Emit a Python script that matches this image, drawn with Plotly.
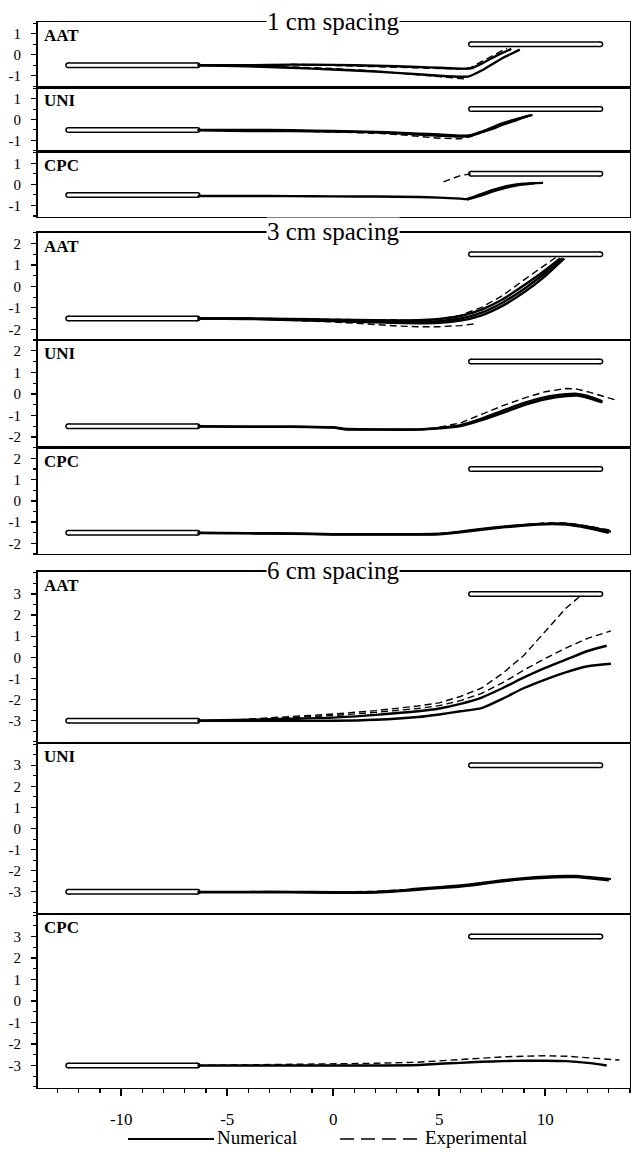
import plotly.graph_objects as go

# ---------------- data ----------------
group_titles = ["1 cm spacing", "3 cm spacing", "6 cm spacing"]
config_names = ["AAT", "UNI", "CPC"]
x_tick_vals = [-10, -5, 0, 5, 10]
x_tick_text = ["-10", "-5", "0", "5", "10"]
y_tick_vals = [[-1, 0, 1], [-2, -1, 0, 1, 2], [-3, -2, -1, 0, 1, 2, 3]]
y_tick_text = [["-1", "0", "1"], ["-2", "-1", "0", "1", "2"],
               ["-3", "-2", "-1", "0", "1", "2", "3"]]
y_ranges = [[-1.55, 1.55], [-2.5, 2.5], [-4.05, 4.05]]
x_range = [-13.95, 14.0]

# plates (rounded bars): left plate below, right plate above
plate_left_x = [-12.5, -6.4]
plate_right_x = [6.5, 12.6]
plate_level = [0.5, 1.5, 3.0]

# ---- 1 cm spacing ----
s1_aat_num1_x = [-6.4, -4, -2, 0, 2, 4, 5, 6, 6.5, 7, 7.5, 8, 8.4]
s1_aat_num1_y = [-0.5, -0.5, -0.47, -0.48, -0.52, -0.58, -0.62, -0.66, -0.65, -0.42, -0.15, 0.1, 0.28]
s1_aat_num2_x = [-6.4, -4, -2, 0, 2, 4, 5, 6, 6.4, 7, 7.5, 8, 8.5, 8.8]
s1_aat_num2_y = [-0.5, -0.55, -0.62, -0.7, -0.8, -0.93, -1.0, -1.05, -1.03, -0.75, -0.45, -0.15, 0.1, 0.25]
s1_aat_exp1_x = [-4, -2, 0, 2, 4, 5, 6.2]
s1_aat_exp1_y = [-0.55, -0.58, -0.65, -0.78, -0.95, -1.05, -1.15]
s1_aat_exp2_x = [-2, 0, 2, 4, 5, 6, 6.5, 7, 7.5, 8, 8.2]
s1_aat_exp2_y = [-0.45, -0.5, -0.55, -0.6, -0.65, -0.68, -0.6, -0.32, -0.05, 0.22, 0.3]

s1_uni_num1_x = [-6.4, -4, -2, 0, 2, 3, 4, 5, 6, 6.5, 7, 7.5, 8, 8.5, 9, 9.3]
s1_uni_num1_y = [-0.5, -0.5, -0.52, -0.55, -0.6, -0.63, -0.68, -0.72, -0.78, -0.75, -0.58, -0.38, -0.18, -0.02, 0.12, 0.2]
s1_uni_num2_x = [-6.4, -4, -2, 0, 2, 3, 4, 5, 6, 6.5, 7, 7.5, 8, 8.5, 9, 9.4]
s1_uni_num2_y = [-0.52, -0.55, -0.55, -0.58, -0.62, -0.66, -0.72, -0.78, -0.82, -0.78, -0.62, -0.45, -0.25, -0.08, 0.1, 0.22]
s1_uni_exp1_x = [-2, 0, 2, 3, 4, 5, 6, 6.5, 7, 7.5, 8, 8.5, 9, 9.2]
s1_uni_exp1_y = [-0.55, -0.6, -0.66, -0.72, -0.82, -0.9, -0.93, -0.82, -0.6, -0.4, -0.2, -0.03, 0.12, 0.18]

s1_cpc_num1_x = [-6.4, -4, -2, 0, 2, 4, 5, 6, 6.3, 7, 7.5, 8, 8.5, 9, 9.9]
s1_cpc_num1_y = [-0.55, -0.55, -0.56, -0.57, -0.58, -0.6, -0.63, -0.68, -0.7, -0.45, -0.27, -0.13, -0.03, 0.03, 0.07]
s1_cpc_num2_x = [6.3, 7, 7.5, 8, 8.5, 9, 9.5]
s1_cpc_num2_y = [-0.72, -0.52, -0.35, -0.2, -0.08, 0.0, 0.05]
s1_cpc_exp1_x = [5.2, 5.6, 6.0, 6.5]
s1_cpc_exp1_y = [0.12, 0.28, 0.42, 0.5]

# ---- 3 cm spacing ----
s3_aat_num1_x = [-6.4, -4, -2, 0, 2, 4, 5, 6, 7, 8, 9, 10, 10.7]
s3_aat_num1_y = [-1.5, -1.5, -1.52, -1.55, -1.58, -1.58, -1.52, -1.38, -1.08, -0.6, 0.05, 0.75, 1.3]
s3_aat_num2_x = [-6.4, -4, -2, 0, 2, 4, 5, 6, 7, 8, 9, 10, 10.9]
s3_aat_num2_y = [-1.5, -1.52, -1.57, -1.62, -1.68, -1.72, -1.7, -1.6, -1.35, -0.9, -0.28, 0.48, 1.3]
s3_aat_num3_x = [-6.4, -4, -2, 0, 2, 4, 5, 6, 7, 8, 9, 10, 10.8]
s3_aat_num3_y = [-1.5, -1.5, -1.55, -1.6, -1.64, -1.66, -1.62, -1.5, -1.22, -0.75, -0.12, 0.62, 1.3]
s3_aat_exp1_x = [-2, 0, 2, 3, 4, 5, 6, 6.8]
s3_aat_exp1_y = [-1.58, -1.66, -1.78, -1.85, -1.88, -1.88, -1.83, -1.73]
s3_aat_exp2_x = [-2, 0, 2, 4, 5, 6, 7, 8, 9, 10, 10.5]
s3_aat_exp2_y = [-1.52, -1.55, -1.57, -1.58, -1.52, -1.35, -0.98, -0.42, 0.3, 1.02, 1.35]

s3_uni_num1_x = [-6.4, -4, -2, 0, 0.5, 2, 4, 5, 6, 7, 8, 9, 10, 11, 11.5, 12, 12.7]
s3_uni_num1_y = [-1.5, -1.52, -1.52, -1.55, -1.62, -1.65, -1.65, -1.58, -1.45, -1.15, -0.78, -0.42, -0.15, -0.02, 0.0, -0.1, -0.35]
s3_uni_num2_x = [-6.4, -4, -2, 0, 0.5, 2, 4, 5, 6, 7, 8, 9, 10, 11, 11.5, 12, 12.7]
s3_uni_num2_y = [-1.52, -1.53, -1.53, -1.57, -1.64, -1.66, -1.66, -1.6, -1.5, -1.22, -0.88, -0.52, -0.25, -0.1, -0.08, -0.18, -0.4]
s3_uni_exp1_x = [5, 6, 7, 8, 9, 10, 11, 11.5, 12, 12.5, 13.3]
s3_uni_exp1_y = [-1.55, -1.35, -0.95, -0.55, -0.2, 0.1, 0.25, 0.22, 0.1, -0.05, -0.28]

s3_cpc_num1_x = [-6.4, -4, -2, 0, 2, 4, 5, 6, 7, 8, 9, 10, 11, 12, 13.1]
s3_cpc_num1_y = [-1.5, -1.52, -1.53, -1.57, -1.57, -1.57, -1.55, -1.45, -1.32, -1.22, -1.13, -1.07, -1.08, -1.22, -1.45]
s3_cpc_num2_x = [-6.4, -4, -2, 0, 2, 4, 5, 6, 7, 8, 9, 10, 11, 12, 13.0]
s3_cpc_num2_y = [-1.52, -1.53, -1.55, -1.58, -1.58, -1.58, -1.57, -1.48, -1.36, -1.25, -1.16, -1.1, -1.12, -1.28, -1.5]
s3_cpc_exp1_x = [6, 8, 10, 11, 12, 13.2]
s3_cpc_exp1_y = [-1.45, -1.2, -1.04, -1.04, -1.18, -1.4]

# ---- 6 cm spacing ----
s6_aat_num1_x = [-6.4, -4, -2, 0, 2, 4, 5, 6, 7, 8, 9, 10, 11, 12, 13.1]
s6_aat_num1_y = [-3.0, -3.0, -3.0, -3.0, -2.95, -2.82, -2.7, -2.55, -2.4, -1.95, -1.45, -1.05, -0.7, -0.42, -0.3]
s6_aat_num2_x = [-6.4, -4, -2, 0, 2, 4, 5, 6, 7, 8, 9, 10, 11, 12, 12.9]
s6_aat_num2_y = [-3.0, -2.95, -2.9, -2.85, -2.72, -2.55, -2.42, -2.2, -1.9, -1.45, -0.95, -0.5, -0.1, 0.3, 0.55]
s6_aat_exp1_x = [-5, -4, -2, 0, 2, 4, 5, 6, 7, 8, 9, 10, 11, 12, 13.1]
s6_aat_exp1_y = [-3.0, -2.95, -2.85, -2.75, -2.6, -2.42, -2.28, -2.05, -1.7, -1.2, -0.6, -0.05, 0.45, 0.9, 1.25]
s6_aat_exp2_x = [-5, -4, -2, 0, 2, 4, 5, 6, 7, 8, 9, 10, 10.5, 11, 11.6]
s6_aat_exp2_y = [-3.0, -2.92, -2.8, -2.68, -2.52, -2.3, -2.15, -1.85, -1.45, -0.75, 0.1, 1.2, 1.8, 2.35, 2.85]

s6_uni_num1_x = [-6.4, -4, -2, 0, 2, 3, 4, 5, 6, 7, 8, 9, 10, 11, 11.5, 12, 13.1]
s6_uni_num1_y = [-3.0, -3.0, -3.0, -3.02, -3.0, -2.95, -2.85, -2.78, -2.7, -2.58, -2.45, -2.35, -2.28, -2.25, -2.25, -2.3, -2.4]
s6_uni_num2_x = [-6.4, -4, -2, 0, 2, 3, 4, 5, 6, 7, 8, 9, 10, 11, 11.5, 12, 13.0]
s6_uni_num2_y = [-3.02, -3.02, -3.02, -3.04, -3.03, -2.98, -2.9, -2.82, -2.75, -2.63, -2.5, -2.4, -2.33, -2.3, -2.3, -2.35, -2.45]
s6_uni_exp1_x = [0, 2, 4, 6, 8, 10, 11, 12, 13.0]
s6_uni_exp1_y = [-3.0, -2.98, -2.86, -2.72, -2.47, -2.3, -2.26, -2.3, -2.42]

s6_cpc_num1_x = [-6.4, -4, -2, 0, 2, 4, 5, 6, 7, 8, 9, 10, 11, 12, 12.9]
s6_cpc_num1_y = [-3.0, -3.0, -3.0, -3.0, -3.0, -2.98, -2.92, -2.88, -2.83, -2.8, -2.78, -2.78, -2.8, -2.88, -3.0]
s6_cpc_exp1_x = [-6.4, -4, -2, 0, 2, 4, 5, 6, 7, 8, 9, 10, 11, 12, 13.5]
s6_cpc_exp1_y = [-3.0, -2.98, -2.95, -2.92, -2.9, -2.85, -2.78, -2.72, -2.65, -2.6, -2.57, -2.55, -2.57, -2.65, -2.75]

legend_labels = ["Numerical", "Experimental"]

# panel -> (numerical curves, experimental curves)
panel_curves = [
    ([(s1_aat_num1_x, s1_aat_num1_y), (s1_aat_num2_x, s1_aat_num2_y)],
     [(s1_aat_exp1_x, s1_aat_exp1_y), (s1_aat_exp2_x, s1_aat_exp2_y)]),
    ([(s1_uni_num1_x, s1_uni_num1_y), (s1_uni_num2_x, s1_uni_num2_y)],
     [(s1_uni_exp1_x, s1_uni_exp1_y)]),
    ([(s1_cpc_num1_x, s1_cpc_num1_y), (s1_cpc_num2_x, s1_cpc_num2_y)],
     [(s1_cpc_exp1_x, s1_cpc_exp1_y)]),
    ([(s3_aat_num1_x, s3_aat_num1_y), (s3_aat_num2_x, s3_aat_num2_y), (s3_aat_num3_x, s3_aat_num3_y)],
     [(s3_aat_exp1_x, s3_aat_exp1_y), (s3_aat_exp2_x, s3_aat_exp2_y)]),
    ([(s3_uni_num1_x, s3_uni_num1_y), (s3_uni_num2_x, s3_uni_num2_y)],
     [(s3_uni_exp1_x, s3_uni_exp1_y)]),
    ([(s3_cpc_num1_x, s3_cpc_num1_y), (s3_cpc_num2_x, s3_cpc_num2_y)],
     [(s3_cpc_exp1_x, s3_cpc_exp1_y)]),
    ([(s6_aat_num1_x, s6_aat_num1_y), (s6_aat_num2_x, s6_aat_num2_y)],
     [(s6_aat_exp1_x, s6_aat_exp1_y), (s6_aat_exp2_x, s6_aat_exp2_y)]),
    ([(s6_uni_num1_x, s6_uni_num1_y), (s6_uni_num2_x, s6_uni_num2_y)],
     [(s6_uni_exp1_x, s6_uni_exp1_y)]),
    ([(s6_cpc_num1_x, s6_cpc_num1_y)],
     [(s6_cpc_exp1_x, s6_cpc_exp1_y)]),
]

# ---------------- layout geometry (pixels) ----------------
W, H = 631, 1152
PX_LEFT, PX_RIGHT = 37.5, 630
panel_px = [  # (top, bottom)
    (22.3, 87.3), (87.3, 151.7), (151.7, 217.0),
    (232.7, 340.0), (340.0, 447.7), (447.7, 554.0),
    (571.7, 743.0), (743.0, 914.0), (914.0, 1088.0),
]
SERIF = "Liberation Serif, Times New Roman, serif"

fig = go.Figure()
layout = dict(
    width=W, height=H, margin=dict(l=0, r=0, t=0, b=0),
    paper_bgcolor="white", plot_bgcolor="white", showlegend=False,
    font=dict(family=SERIF, color="black"),
)
annotations = []
shapes = []

for i in range(9):
    g = i // 3
    k = "" if i == 0 else str(i + 1)
    xa, ya = "x" + k, "y" + k
    top, bot = panel_px[i]
    last = (i == 8)
    layout["xaxis" + k] = dict(
        domain=[PX_LEFT / W, PX_RIGHT / W], range=x_range, anchor=ya,
        showline=True, mirror=True, linecolor="black", linewidth=1.4,
        showgrid=False, zeroline=False, fixedrange=True,
        ticks="outside" if last else "", showticklabels=last,
        tickmode="array", tickvals=x_tick_vals, ticktext=x_tick_text,
        ticklen=7, tickwidth=1.5, tickcolor="black", ticklabelstandoff=8,
        tickfont=dict(family=SERIF, size=17, color="black"),
        minor=dict(dtick=1, tick0=0, ticks="outside" if last else "", ticklen=4,
                   tickwidth=1.3, tickcolor="black", showgrid=False),
    )
    layout["yaxis" + k] = dict(
        domain=[1 - bot / H, 1 - top / H], range=y_ranges[g], anchor=xa,
        showline=True, mirror=True, linecolor="black", linewidth=1.4,
        showgrid=False, zeroline=False, fixedrange=True,
        ticks="outside", tickmode="array", tickvals=y_tick_vals[g], ticktext=y_tick_text[g],
        ticklen=5, tickwidth=1.3, tickcolor="black", ticklabelstandoff=7,
        tickfont=dict(family=SERIF, size=15, color="black"),
        minor=dict(tickmode="linear", tick0=0, dtick=0.5, ticks="outside", ticklen=3,
                   tickwidth=1.1, tickcolor="black", showgrid=False),
    )

    # plates
    lev = plate_level[g]
    for px_, py_ in ((plate_left_x, [-lev, -lev]), (plate_right_x, [lev, lev])):
        fig.add_trace(go.Scatter(x=px_, y=py_, xaxis=xa, yaxis=ya, mode="lines+markers",
                                 line=dict(color="black", width=6),
                                 marker=dict(color="black", size=6), hoverinfo="skip"))
        fig.add_trace(go.Scatter(x=px_, y=py_, xaxis=xa, yaxis=ya, mode="lines+markers",
                                 line=dict(color="white", width=3),
                                 marker=dict(color="white", size=3), hoverinfo="skip"))

    nums, exps = panel_curves[i]
    for cx, cy in exps:
        fig.add_trace(go.Scatter(x=cx, y=cy, xaxis=xa, yaxis=ya, mode="lines",
                                 line=dict(color="black", width=1.4, dash="7px,4px"),
                                 name=legend_labels[1], hoverinfo="skip"))
    for cx, cy in nums:
        fig.add_trace(go.Scatter(x=cx, y=cy, xaxis=xa, yaxis=ya, mode="lines",
                                 line=dict(color="black", width=2.4, shape="spline", smoothing=0.6),
                                 name=legend_labels[0], hoverinfo="skip"))

    # panel label
    annotations.append(dict(
        text="<b>%s</b>" % config_names[i % 3], xref="paper", yref="paper",
        x=42 / W, y=1 - (top + 2) / H, xanchor="left", yanchor="top",
        showarrow=False, font=dict(family=SERIF, size=17, color="black"),
    ))

# group titles sitting on the top border
for g in range(3):
    top = panel_px[g * 3][0]
    annotations.append(dict(
        text=group_titles[g], xref="paper", yref="paper",
        x=333 / W, y=1 - (top - 1) / H, xanchor="center", yanchor="middle",
        showarrow=False, bgcolor="white", borderpad=0,
        font=dict(family=SERIF, size=25, color="black"),
    ))

# legend (drawn manually to match the long line samples)
LEG_Y = 1 - 1139 / H
TXT_Y = 1 - 1137 / H
shapes.append(dict(type="line", xref="paper", yref="paper", x0=128 / W, x1=214 / W,
                   y0=LEG_Y, y1=LEG_Y, line=dict(color="black", width=2)))
shapes.append(dict(type="line", xref="paper", yref="paper", x0=340 / W, x1=422 / W,
                   y0=LEG_Y, y1=LEG_Y, line=dict(color="black", width=1.5, dash="14px,7px")))
annotations.append(dict(text=legend_labels[0], xref="paper", yref="paper", x=215 / W, y=TXT_Y,
                        xanchor="left", yanchor="middle", showarrow=False,
                        font=dict(family=SERIF, size=19, color="black")))
annotations.append(dict(text=legend_labels[1], xref="paper", yref="paper", x=423 / W, y=TXT_Y,
                        xanchor="left", yanchor="middle", showarrow=False,
                        font=dict(family=SERIF, size=19, color="black")))

layout["annotations"] = annotations
layout["shapes"] = shapes
fig.update_layout(**layout)
# remove the browser's default 8px body margin so the figure sits at the page origin
fig.write_html("out.html",
               config={"displayModeBar": False, "staticPlot": True},
               post_script="document.body.style.margin='0px';document.body.style.padding='0px';"
                           "document.body.style.overflow='hidden';")
